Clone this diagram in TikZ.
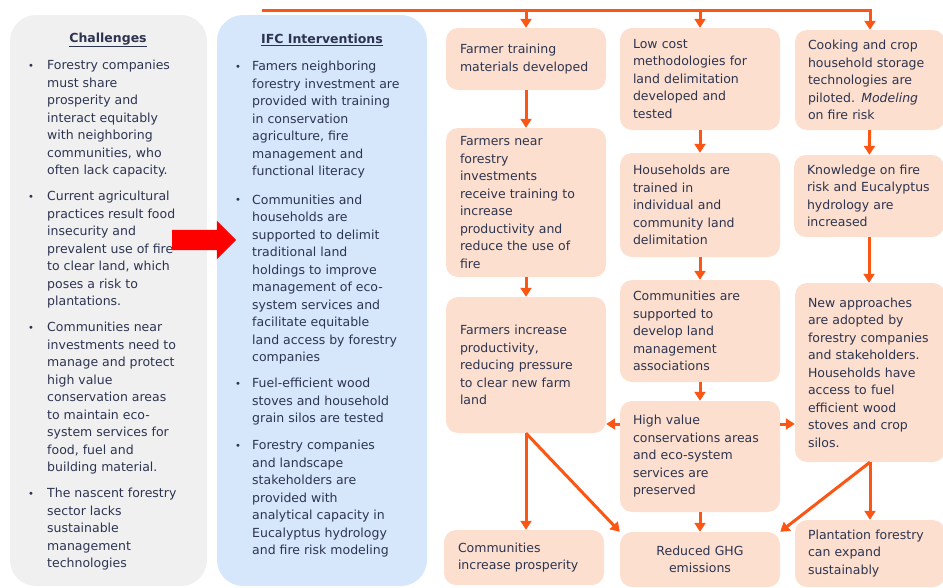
\documentclass[tikz,border=0pt]{standalone}
\usepackage{fontspec}
\setmainfont{DejaVu Sans}
\usetikzlibrary{arrows.meta,shapes.arrows,positioning}

\definecolor{panelgray}{RGB}{240,240,240}
\definecolor{panelblue}{RGB}{214,230,251}
\definecolor{peach}{RGB}{252,223,206}
\definecolor{flowline}{RGB}{252,86,20}
\definecolor{inktext}{RGB}{45,52,80}

\newcommand\bodyfont{\fontsize{12.5}{17.5}\selectfont}
\newcommand\bul{\raisebox{0.5pt}{\fontsize{10}{10}\selectfont\textbullet}}

\tikzset{
  panel/.style={rounded corners=26pt, inner sep=0pt, draw=none},
  paneltitle/.style={font=\bodyfont\bfseries, text=inktext, inner sep=0pt},
  plist/.style={anchor=north west, inner sep=0pt, font=\bodyfont, text=inktext},
  outcome/.style={rounded corners=12pt, fill=peach, align=left, inner xsep=14pt,
    inner ysep=0pt, font=\bodyfont, text=inktext},
  flow/.style={draw=flowline, line width=3pt, -{Triangle[width=11pt,length=9pt]}},
}

\begin{document}
\begin{tikzpicture}[x=1pt,y=-1pt]
\useasboundingbox (0,0) rectangle (943,587);

% left panels
\node[panel, fill=panelgray, minimum width=197pt, minimum height=571pt] (chal) at (108.5,300.5) {};
\node[panel, fill=panelblue, minimum width=210pt, minimum height=571pt] (ifc) at (322,300.5) {};

\node[paneltitle] (chaltitle) at (108,40) {\underline{Challenges}};
\node[paneltitle] (ifctitle) at (322,40) {\underline{IFC Interventions}};

\node[plist] (challist) at (28,57.5) {%
\begin{tabular}{@{}p{19pt}@{}l@{}}
\bul & Forestry companies\\
 & must share\\
 & prosperity and\\
 & interact equitably\\
 & with neighboring\\
 & communities, who\\
 & often lack capacity.\\[8.5pt]
\bul & Current agricultural\\
 & practices result food\\
 & insecurity and\\
 & prevalent use of fire\\
 & to clear land, which\\
 & poses a risk to\\
 & plantations.\\[8.5pt]
\bul & Communities near\\
 & investments need to\\
 & manage and protect\\
 & high value\\
 & conservation areas\\
 & to maintain eco-\\
 & system services for\\
 & food, fuel and\\
 & building material.\\[8.5pt]
\bul & The nascent forestry\\
 & sector lacks\\
 & sustainable\\
 & management\\
 & technologies
\end{tabular}};

\node[plist] (ifclist) at (235,58.5) {%
\begin{tabular}{@{}p{17pt}@{}l@{}}
\bul & Famers neighboring\\
 & forestry investment are\\
 & provided with training\\
 & in conservation\\
 & agriculture, fire\\
 & management and\\
 & functional literacy\\[11pt]
\bul & Communities and\\
 & households are\\
 & supported to delimit\\
 & traditional land\\
 & holdings to improve\\
 & management of eco-\\
 & system services and\\
 & facilitate equitable\\
 & land access by forestry\\
 & companies\\[8.5pt]
\bul & Fuel-efficient wood\\
 & stoves and household\\
 & grain silos are tested\\[9.5pt]
\bul & Forestry companies\\
 & and landscape\\
 & stakeholders are\\
 & provided with\\
 & analytical capacity in\\
 & Eucalyptus hydrology\\
 & and fire risk modeling
\end{tabular}};

\node[single arrow, fill=red, inner sep=10pt, minimum height=64pt,
  single arrow head extend=9pt] (push) at (199,240) {};

% results chain
\node[outcome, text width=132pt, minimum height=62pt] (b1) at (526,59)
  {Farmer training\\materials developed};
\node[outcome, text width=132pt, minimum height=149pt] (b2) at (526,202.5)
  {Farmers near\\forestry\\investments\\receive training to\\increase\\productivity and\\reduce the use of\\fire};
\node[outcome, text width=132pt, minimum height=136pt] (b3) at (526,365)
  {Farmers increase\\productivity,\\reducing pressure\\to clear  new farm\\land};
\node[outcome, text width=132pt, minimum height=55pt] (b4) at (524,557.5)
  {Communities\\increase prosperity};

\node[outcome, text width=134pt, inner xsep=13pt, minimum height=102pt] (c1) at (700,79)
  {Low cost\\methodologies for\\land delimitation\\developed and\\tested};
\node[outcome, text width=134pt, inner xsep=13pt, minimum height=104pt] (c2) at (700,205)
  {Households are\\trained in\\individual and\\community land\\delimitation};
\node[outcome, text width=134pt, inner xsep=13pt, minimum height=102pt] (c3) at (700,331)
  {Communities are\\supported to\\develop land\\management\\associations};
\node[outcome, text width=134pt, inner xsep=13pt, minimum height=111pt] (c4) at (700,456.5)
  {High value\\conservations areas\\and eco-system\\services are\\preserved};
\node[outcome, align=center, text width=134pt, inner xsep=13pt, minimum height=55pt] (c5) at (700,559.5)
  {Reduced GHG\\emissions};

\node[outcome, text width=124pt, inner xsep=13pt, minimum height=100pt] (d1) at (870,80)
  {Cooking and crop\\household storage\\technologies are\\piloted.  \textit{Modeling}\\on fire risk};
\node[outcome, text width=124pt, inner xsep=13pt, minimum height=82pt] (d2) at (869,196)
  {Knowledge on fire\\risk and Eucalyptus\\hydrology are\\increased};
\node[outcome, text width=124pt, inner xsep=13pt, minimum height=179pt] (d3) at (870,372.5)
  {New approaches\\are adopted by\\forestry companies\\and stakeholders.\\Households have\\access to fuel\\efficient wood\\stoves and crop\\silos.};
\node[outcome, text width=124pt, inner xsep=13pt, minimum height=67pt] (d4) at (870,553.5)
  {Plantation forestry\\can expand\\sustainably};

% links
\coordinate (bus) at (262,10);
\coordinate (mid) at (700,424);
\draw[flow] (bus) -| (d1.north);
\draw[flow] (bus -| b1.north) -- (b1.north);
\draw[flow] (bus -| c1.north) -- (c1.north);

\draw[flow] (b1) -- (b2);
\draw[flow] (b2) -- (b3);
\draw[flow] (b3.south) -- (b3.south |- b4.north);
\draw[flow] (b3.south) -- (c5.north west);

\draw[flow] (c1) -- (c2);
\draw[flow] (c2) -- (c3);
\draw[flow] (c3) -- (c4);
\draw[flow] (c4) -- (c5);
\draw[flow] (c4.west |- mid) -- (b3.east |- mid);
\draw[flow] (c4.east |- mid) -- (d3.west |- mid);

\draw[flow] (d1) -- (d2);
\draw[flow] (d2.south) -- (d2.south |- d3.north);
\draw[flow] (d3.south) -- (d3.south |- d4.north);
\draw[flow] (d3.south) -- (c5.north east);
\end{tikzpicture}
\end{document}
